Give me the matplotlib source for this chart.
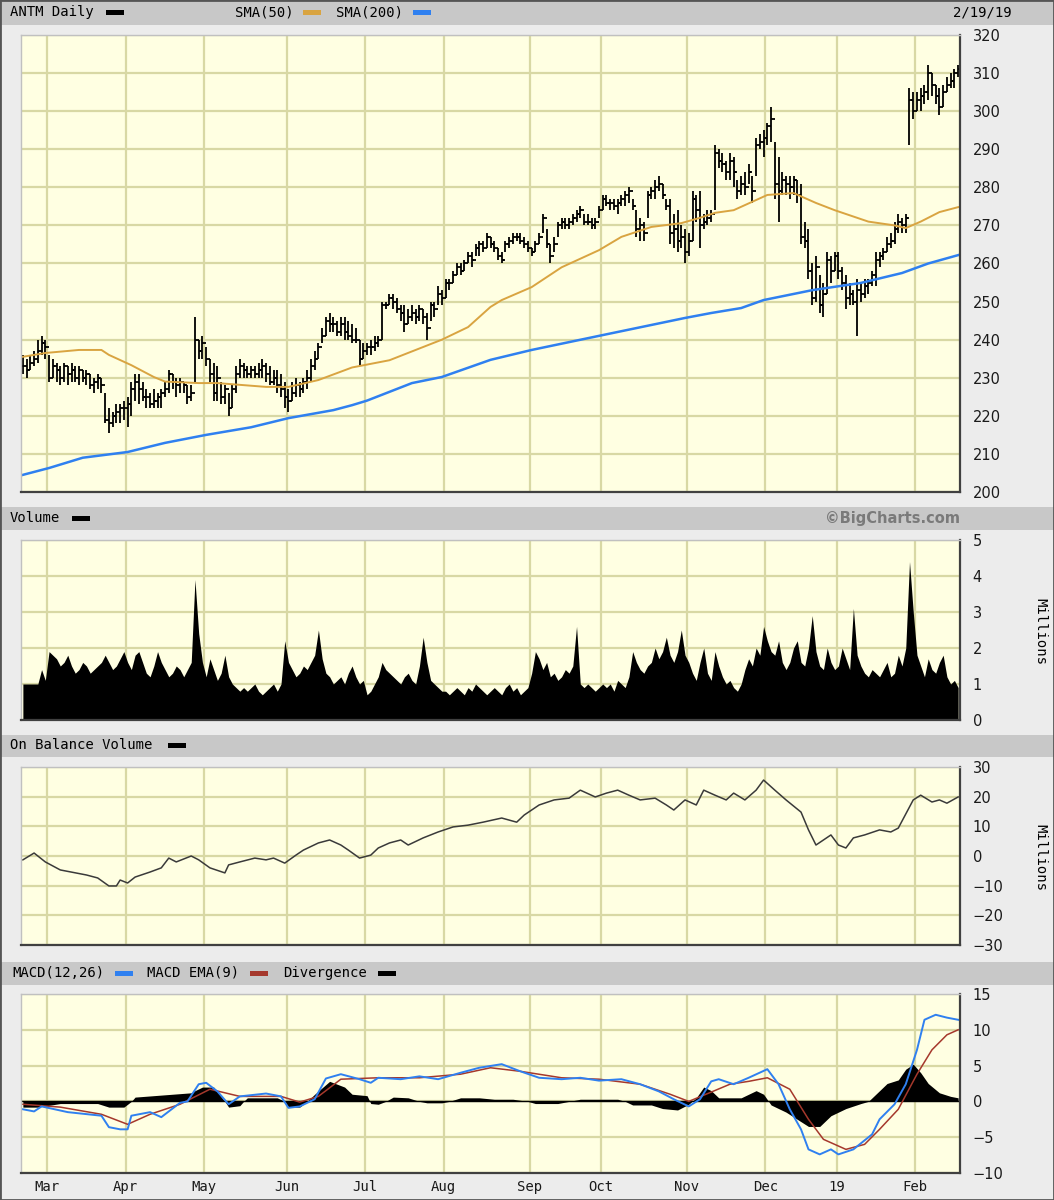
import matplotlib
matplotlib.use("Agg")
import matplotlib.pyplot as plt
from matplotlib.patches import Rectangle
import numpy as np

# ---- daily price bars, 2/20/18 .. 2/19/19 (one entry per trading day) ----
close = [233, 232, 234, 235, 237, 239, 238,
         230, 233, 232, 230, 233, 231, 232, 230, 232, 230, 231, 228, 229, 230, 228, 219, 218, 220, 221, 222, 222,
         223, 227, 229, 227, 225, 225, 223, 224, 225, 226, 227, 231, 229, 228, 229, 228, 225, 226, 240, 237, 239,
         235, 231, 226, 230, 225, 227, 222, 227, 231, 233, 232, 231, 232, 231, 232, 233, 231, 229, 230, 228, 227, 225,
         224, 226, 228, 227, 229, 230, 233, 235, 238, 241, 245, 244, 244, 242, 244, 242, 241, 240, 240, 235, 237,
         238, 238, 239, 240, 249, 249, 251, 250, 248, 247, 244, 246, 247, 246, 248, 246, 243, 249, 248, 252, 251,
         255, 255, 257, 259, 258, 260, 262, 261, 264, 265, 264, 267, 265, 264, 262, 261, 265, 266, 267, 267, 266, 265, 264,
         263, 265, 267, 272, 265, 262, 265, 270, 271, 270, 271, 272, 273, 274, 271, 271, 270, 271, 274,
         277, 276, 276, 275, 276, 277, 278, 279, 275, 269, 270, 268, 278, 279, 280, 281, 278, 275, 268, 269, 266, 267, 263,
         266, 277, 274, 270, 271, 272, 273, 289, 287, 286, 284, 287, 284, 279, 281, 280, 284, 279, 291, 292, 293,
         296, 298, 281, 279, 282, 281, 280, 282, 278, 267, 266, 258, 251, 259, 249, 252, 261, 258, 262,
         258, 255, 251, 252, 250, 253, 252, 254, 255, 257, 261, 262, 263, 265, 266, 269, 271, 270, 272, 303, 300,
         303, 304, 305, 310, 307, 304, 301, 305, 307, 308, 310, 311]
high = [236, 235, 236, 237, 240, 241, 240,
        236, 235, 234, 233, 234, 233, 234, 233, 233, 232, 232, 231, 230, 231, 230, 226, 222, 221, 223, 223, 224,
        225, 229, 231, 231, 229, 227, 226, 227, 226, 227, 229, 232, 231, 230, 230, 229, 228, 228, 246, 240, 241,
        238, 235, 234, 233, 229, 228, 226, 228, 233, 235, 234, 233, 233, 233, 234, 235, 234, 233, 232, 232, 231, 229,
        227, 229, 230, 229, 230, 232, 235, 237, 239, 243, 246, 247, 246, 245, 246, 246, 245, 244, 243, 240, 239,
        239, 240, 241, 241, 250, 250, 252, 252, 251, 249, 249, 248, 249, 248, 249, 248, 247, 250, 250, 254, 253,
        256, 256, 258, 260, 260, 261, 263, 263, 265, 266, 266, 268, 267, 266, 264, 263, 266, 267, 268, 268, 268, 267, 266,
        264, 266, 268, 273, 269, 265, 267, 271, 272, 272, 272, 273, 274, 275, 273, 273, 272, 272, 275,
        278, 278, 277, 277, 277, 278, 279, 280, 277, 274, 272, 271, 279, 280, 282, 283, 281, 277, 277, 273, 274, 270, 269,
        268, 279, 278, 279, 273, 274, 274, 291, 290, 289, 287, 289, 288, 282, 283, 284, 286, 283, 293, 294, 295,
        297, 301, 292, 288, 284, 283, 283, 283, 282, 281, 271, 269, 260, 262, 257, 255, 263, 262, 263,
        263, 259, 257, 255, 253, 256, 255, 256, 256, 258, 263, 263, 264, 267, 268, 271, 273, 272, 273, 306, 305,
        305, 306, 307, 312, 310, 307, 306, 307, 309, 310, 311, 312]
low = [231, 230, 232, 233, 234, 236, 235,
       229, 230, 229, 228, 229, 228, 229, 229, 228, 229, 228, 227, 226, 227, 226, 218, 215.5, 217, 218, 218, 219,
       217, 220, 224, 223, 224, 222, 222, 222, 222, 222, 225, 226, 227, 225, 226, 226, 223, 224, 229, 235, 235,
       233, 229, 224, 224, 223, 223, 220, 222, 226, 230, 230, 230, 230, 230, 230, 230, 229, 228, 228, 226, 225, 222,
       221, 224, 225, 225, 226, 227, 229, 232, 235, 239, 241, 242, 242, 241, 241, 240, 240, 239, 239, 233, 235,
       236, 236, 237, 238, 240, 248, 249, 248, 247, 245, 242, 244, 245, 244, 245, 244, 240, 245, 246, 249, 249,
       251, 253, 255, 257, 257, 258, 260, 259, 262, 262, 263, 264, 264, 263, 261, 260, 263, 264, 265, 266, 265, 264, 263,
       262, 263, 265, 268, 264, 260, 263, 267, 269, 269, 269, 270, 271, 272, 270, 270, 269, 269, 272,
       274, 275, 274, 274, 273, 275, 275, 276, 274, 267, 266, 266, 272, 277, 277, 279, 277, 274, 265, 264, 263, 264, 260,
       262, 266, 271, 264, 269, 270, 271, 274, 285, 284, 282, 282, 280, 277, 278, 278, 281, 276, 283, 290, 288,
       291, 292, 277, 271, 278, 278, 277, 278, 276, 265, 264, 256, 249, 250, 247, 246, 252, 255, 258,
       256, 253, 248, 249, 249, 241, 250, 251, 252, 254, 254, 259, 261, 263, 264, 265, 268, 268, 268, 291, 298,
       300, 300, 302, 303, 304, 302, 299, 301, 305, 306, 306, 309]

# moving averages, read at sample days
sma50_day = [0, 6, 15, 21, 23, 29, 35, 38, 47, 52, 65, 71, 79, 88, 98, 105, 112, 119, 125, 128, 136,
             144, 154, 160, 168, 176, 181, 185, 190, 199, 206, 212, 217, 226, 233, 236, 240, 245, 250]
sma50_val = [235.5, 236.5, 237.3, 237.3, 236, 233.3, 230.2, 229, 228.6, 228.6, 227.6, 227.6, 229.4, 232.7,
             234.6, 237.3, 240, 243.3, 248.6, 250.4, 253.8, 259, 263.5, 267, 269.6, 270.6, 272, 273.3, 274,
             278, 278.5, 275.9, 274, 271, 270, 269.3, 271, 273.5, 274.8]
sma200_day = [0, 7, 16, 28, 38, 49, 61, 71, 83, 88, 92, 104, 112, 125, 136, 154, 177, 184, 192, 198,
              211, 224, 235, 242, 250]
sma200_val = [204.5, 206.3, 209, 210.5, 212.9, 215, 217, 219.4, 221.5, 222.8, 224, 228.6, 230.2, 234.7,
              237.3, 241, 245.7, 247, 248.3, 250.4, 253, 254.9, 257.5, 260, 262.2]

# volume, millions
volume = [1.0, 1.0, 1.0, 1.0, 1.0, 1.4, 1.1,
          1.9, 1.8, 1.7, 1.5, 1.6, 1.8, 1.5, 1.3, 1.4, 1.6, 1.5, 1.3, 1.4, 1.5, 1.6, 1.8, 1.6, 1.4, 1.5, 1.7, 1.9,
          1.6, 1.4, 1.8, 1.9, 1.6, 1.3, 1.2, 1.5, 1.9, 1.6, 1.4, 1.2, 1.3, 1.5, 1.4, 1.2, 1.4, 1.6, 3.9, 2.4, 1.6,
          1.2, 1.7, 1.4, 1.1, 1.3, 1.8, 1.2, 1.0, 0.9, 0.8, 0.9, 0.8, 0.9, 1.0, 0.8, 0.7, 0.8, 0.9, 1.0, 0.8, 1.0, 2.2,
          1.6, 1.4, 1.2, 1.3, 1.5, 1.4, 1.6, 1.8, 2.5, 1.7, 1.3, 1.2, 1.0, 1.1, 1.2, 1.0, 1.3, 1.5, 1.2, 1.0, 1.1,
          0.7, 0.8, 1.0, 1.2, 1.6, 1.4, 1.3, 1.2, 1.1, 1.0, 1.2, 1.3, 1.1, 1.0, 1.5, 2.3, 1.6, 1.1, 1.0, 0.9, 0.8,
          0.8, 0.7, 0.8, 0.9, 0.8, 0.7, 0.9, 0.8, 1.0, 0.9, 0.8, 0.7, 0.8, 0.9, 0.8, 0.7, 0.9, 1.0, 0.8, 0.9, 0.7, 0.8, 0.9,
          1.3, 1.9, 1.7, 1.4, 1.6, 1.2, 1.3, 1.1, 1.2, 1.4, 1.3, 1.5, 2.6, 1.0, 0.9, 1.0, 0.9, 0.8, 0.9,
          1.0, 0.9, 1.0, 0.8, 1.1, 1.0, 0.9, 1.2, 1.9, 1.6, 1.4, 1.3, 1.5, 1.6, 2.0, 1.7, 1.9, 2.3, 1.8, 1.6, 1.9, 2.5, 1.8,
          1.6, 1.3, 1.1, 1.6, 2.0, 1.3, 1.1, 1.9, 1.5, 1.2, 1.0, 1.1, 0.9, 0.8, 1.0, 1.4, 1.7, 1.5, 2.0, 1.8, 2.6,
          2.2, 1.9, 1.8, 2.2, 1.6, 1.4, 1.6, 2.0, 2.2, 1.6, 1.5, 2.0, 2.9, 1.9, 1.5, 1.4, 2.0, 1.6, 1.4,
          1.5, 2.0, 1.7, 1.4, 3.1, 1.8, 1.5, 1.3, 1.2, 1.4, 1.3, 1.2, 1.4, 1.6, 1.2, 1.3, 1.8, 1.5, 2.0, 4.4, 3.0,
          1.8, 1.5, 1.2, 1.7, 1.4, 1.3, 1.6, 1.8, 1.2, 1.0, 1.1, 0.9]

# on balance volume, millions
obv_day = [0, 3, 6, 10, 17, 20, 23, 25, 26, 28, 30, 34, 37, 39, 41, 45, 47, 50, 54, 55, 58, 62, 65, 67, 70,
           73, 75, 79, 82, 85, 87, 90, 93, 95, 98, 101, 103, 107, 111, 115, 119, 123, 128, 132, 134, 138,
           142, 146, 149, 153, 156, 159, 162, 165, 169, 172, 174, 177, 180, 182, 185, 188, 190, 193, 196,
           198, 201, 204, 208, 210, 212, 214, 216, 218, 220, 222, 225, 229, 232, 234, 238, 240, 243, 245,
           247, 250]
obv_val = [-1.3, 1.0, -2, -4.7, -6.4, -7.4, -10.1, -10.1, -8.1, -9.1, -7.1, -5.4, -4.0, -0.7, -2, 0, -1.3,
           -4, -5.7, -3, -2, -0.7, -1.3, -0.7, -2.4, 0.3, 2, 4.4, 5.4, 3.7, 2, -0.7, 0.3, 2.7, 4.4, 5.4, 3.7,
           6.1, 8.1, 9.8, 10.4, 11.4, 12.8, 11.4, 13.8, 17.2, 18.9, 19.5, 22.2, 19.9, 21.2, 22.2, 20.5, 18.9,
           19.5, 17.2, 15.5, 18.9, 17.2, 22.2, 20.5, 18.9, 21.2, 18.9, 22.2, 25.6, 22.2, 18.9, 14.8, 8.8,
           3.7, 5.4, 7.1, 3.7, 2.7, 6.1, 7.1, 8.8, 8.1, 9.4, 18.9, 20.5, 18.2, 18.9, 17.8, 19.9]

# MACD(12,26), EMA(9) signal and divergence
macd_day = [0, 3, 5, 12, 21, 23, 26, 28, 29, 34, 37, 42, 44, 47, 49, 52, 55, 58, 65, 69, 71, 74, 78, 81,
            85, 90, 93, 95, 101, 106, 111, 117, 122, 128, 133, 138, 144, 149, 154, 160, 165, 170, 174, 178,
            181, 184, 186, 190, 194, 199, 202, 205, 208, 210, 213, 216, 218, 222, 227, 229, 233, 236, 239,
            241, 244, 247, 250]
macd_val = [-1.1, -1.4, -0.7, -1.5, -2, -3.6, -3.9, -3.9, -2, -1.5, -2.2, -0.2, 0, 2.4, 2.6, 1.4, -0.4, 0.7,
            1.1, 0.7, -0.9, -0.7, 0.3, 3.2, 3.8, 3.1, 2.6, 3.3, 3.1, 3.5, 3.1, 4, 4.7, 5.2, 4.2, 3.3, 3.1, 3.3,
            2.9, 3.1, 2.4, 1.4, 0.3, -0.7, 0.3, 2.8, 3.1, 2.4, 3.3, 4.5, 2.4, -1.1, -3.9, -6.7, -7.4, -6.7,
            -7.4, -6.7, -4.6, -2.5, -0.4, 2.4, 7.2, 11.4, 12.1, 11.7, 11.4]
sig_day = [0, 10, 21, 28, 34, 42, 50, 58, 69, 74, 79, 85, 95, 106, 117, 125, 133, 144, 154, 165, 173, 178,
           184, 189, 194, 199, 205, 210, 214, 220, 225, 229, 234, 239, 243, 247, 250]
sig_val = [-0.4, -0.8, -1.8, -3.2, -1.8, -0.4, 1.7, 0.7, 0.7, -0.1, 0.7, 3.1, 3.3, 3.3, 3.8, 4.7, 4.2, 3.3,
           3.1, 2.4, 1.0, 0, 1.3, 2.4, 2.8, 3.3, 1.7, -2.5, -5.3, -6.7, -6, -3.9, -1.1, 3.8, 7.2, 9.3, 10]
div_day = [0, 4, 10, 20, 23, 27, 29, 30, 40, 45, 46, 48, 51, 54, 55, 58, 59, 60, 68, 70, 71, 74, 76, 78,
           82, 86, 88, 92, 93, 95, 97, 99, 103, 106, 108, 112, 114, 117, 122, 126, 131, 135, 137, 143, 146,
           149, 159, 161, 163, 168, 171, 175, 178, 180, 182, 184, 186, 192, 196, 198, 200, 204, 207, 210,
           213, 216, 220, 224, 226, 228, 231, 234, 236, 238, 240, 242, 245, 248, 250]
div_val = [-0.8, -0.8, -0.3, -0.3, -0.8, -0.8, 0, 0.6, 1.0, 1.2, 1.5, 2.0, 2.0, 0, -0.8, -0.6, 0, 0.5, 0.5,
           0, -0.8, -0.8, 0, 1.0, 2.8, 2.0, 1.0, 0.8, -0.3, -0.4, 0, 0.6, 0.5, 0, -0.2, -0.2, 0, 0.5, 0.5,
           0.3, 0.3, 0, -0.3, -0.3, 0, 0.3, 0.3, 0, -0.5, -0.5, -1.0, -1.2, -0.4, 0.5, 2.0, 1.5, 0.5, 0.5,
           1.5, 1.0, -0.5, -1.5, -2.5, -3.5, -3.5, -2, -1, -0.3, 0, 1.0, 2.5, 3, 4.5, 5.2, 4, 2.5, 1.2, 0.7, 0.5]

# first trading day of each month (index into the daily arrays)
month_start = [7, 28, 49, 71, 92, 113, 136, 155, 178, 199, 218, 239]
month_labels = ["Mar", "Apr", "May", "Jun", "Jul", "Aug", "Sep", "Oct", "Nov", "Dec", "19", "Feb"]

assert len(close) == len(high) == len(low) == len(volume) == 251
assert len(obv_day) == len(obv_val)

W, H = 1054, 1200
fig = plt.figure(figsize=(W / 100, H / 100), dpi=100)
fig.patch.set_facecolor("#ececec")
MONO = "DejaVu Sans Mono"
PLOT_BG = "#ffffe2"
GRID = "#d8d8a4"


def fx(x):
    return x / W


def fy(y):
    return 1 - y / H


def strip(top, bottom):
    fig.add_artist(Rectangle((0, fy(bottom)), 1, (bottom - top) / H, transform=fig.transFigure,
                             facecolor="#c8c8c8", edgecolor="none", zorder=0))


def label(x, y, s, **kw):
    kw.setdefault("family", MONO)
    kw.setdefault("fontsize", 10)
    fig.text(fx(x), fy(y), s, va="center", ha=kw.pop("ha", "left"), **kw)


def swatch(x, y, color):
    fig.add_artist(Rectangle((fx(x), fy(y + 3)), 18 / W, 5 / H, transform=fig.transFigure,
                             facecolor=color, edgecolor="none"))


def panel(top, bottom, ylim, yticks):
    ax = fig.add_axes([fx(21), fy(bottom), 939 / W, (bottom - top) / H])
    ax.set_facecolor(PLOT_BG)
    ax.set_xlim(-0.5, 250.5)
    ax.set_ylim(*ylim)
    ax.set_xticks([m - 0.5 for m in month_start])
    ax.set_yticks(yticks)
    ax.grid(True, color=GRID, lw=1.6)
    ax.set_axisbelow(True)
    ax.yaxis.tick_right()
    ax.tick_params(length=0, labelsize=10.5, labelcolor="#1a1a1a")
    ax.tick_params(axis="y", pad=9)
    ax.tick_params(axis="x", labelbottom=False)
    for side in ("top", "left"):
        ax.spines[side].set_color("#c0c0c0")
        ax.spines[side].set_linewidth(1)
    for side in ("bottom", "right"):
        ax.spines[side].set_color("#404040")
        ax.spines[side].set_linewidth(1.6)
    return ax


days = np.arange(len(close))

# header strips
strip(0, 25)
strip(507, 530)
strip(735, 757)
strip(962, 985)
fig.add_artist(Rectangle((0, 0), 1, 1, transform=fig.transFigure, fill=False,
                         edgecolor="#555555", lw=2))

label(10, 12, "ANTM Daily")
swatch(106, 12, "black")
label(235, 12, "SMA(50)")
swatch(303, 12, "#d9a441")
label(336, 12, "SMA(200)")
swatch(413, 12, "#2f80f0")
label(1012, 12, "2/19/19", ha="right")

label(10, 518, "Volume")
swatch(72, 518, "black")
label(960, 518, "\u00a9BigCharts.com", ha="right", family="DejaVu Sans", fontsize=10.5,
      fontweight="bold", color="#7a7a7a")
label(10, 745, "On Balance Volume")
swatch(168, 745, "black")
label(12, 973, "MACD(12,26)")
swatch(115, 973, "#2f80f0")
label(147, 973, "MACD EMA(9)")
swatch(250, 973, "#a5382c")
label(283, 973, "Divergence")
swatch(378, 973, "black")

label(1040, 631, "Millions", rotation=270, ha="center")
label(1040, 857, "Millions", rotation=270, ha="center")

# price panel
ax1 = panel(35, 492, (200, 320), range(200, 321, 10))
opens = [close[0]] + close[:-1]
ax1.vlines(days, low, high, color="black", lw=1.3)
ax1.hlines(opens, days - 0.55, days, color="black", lw=1.3)
ax1.hlines(close, days, days + 0.55, color="black", lw=1.3)
ax1.plot(sma50_day, sma50_val, color="#d9a441", lw=1.4)
ax1.plot(sma200_day, sma200_val, color="#2f80f0", lw=1.8)

# volume panel
ax2 = panel(540, 720, (0, 5), range(0, 6))
ax2.fill_between(days, volume, 0, color="black", lw=0)

# on balance volume
ax3 = panel(767, 945, (-30, 30), range(-30, 31, 10))
ax3.plot(obv_day, obv_val, color="#3a3a3a", lw=1.1)

# MACD
ax4 = panel(994, 1173, (-10, 15), range(-10, 16, 5))
ax4.fill_between(div_day, div_val, 0, color="black", lw=0)
ax4.axhline(0, color="black", lw=1)
ax4.plot(sig_day, sig_val, color="#a5382c", lw=1.1)
ax4.plot(macd_day, macd_val, color="#2f80f0", lw=1.4)
ax4.set_xticklabels(month_labels, family=MONO, fontsize=10)
ax4.tick_params(axis="x", labelbottom=True, pad=5)

fig.savefig("out.png", dpi=100, facecolor=fig.get_facecolor())
